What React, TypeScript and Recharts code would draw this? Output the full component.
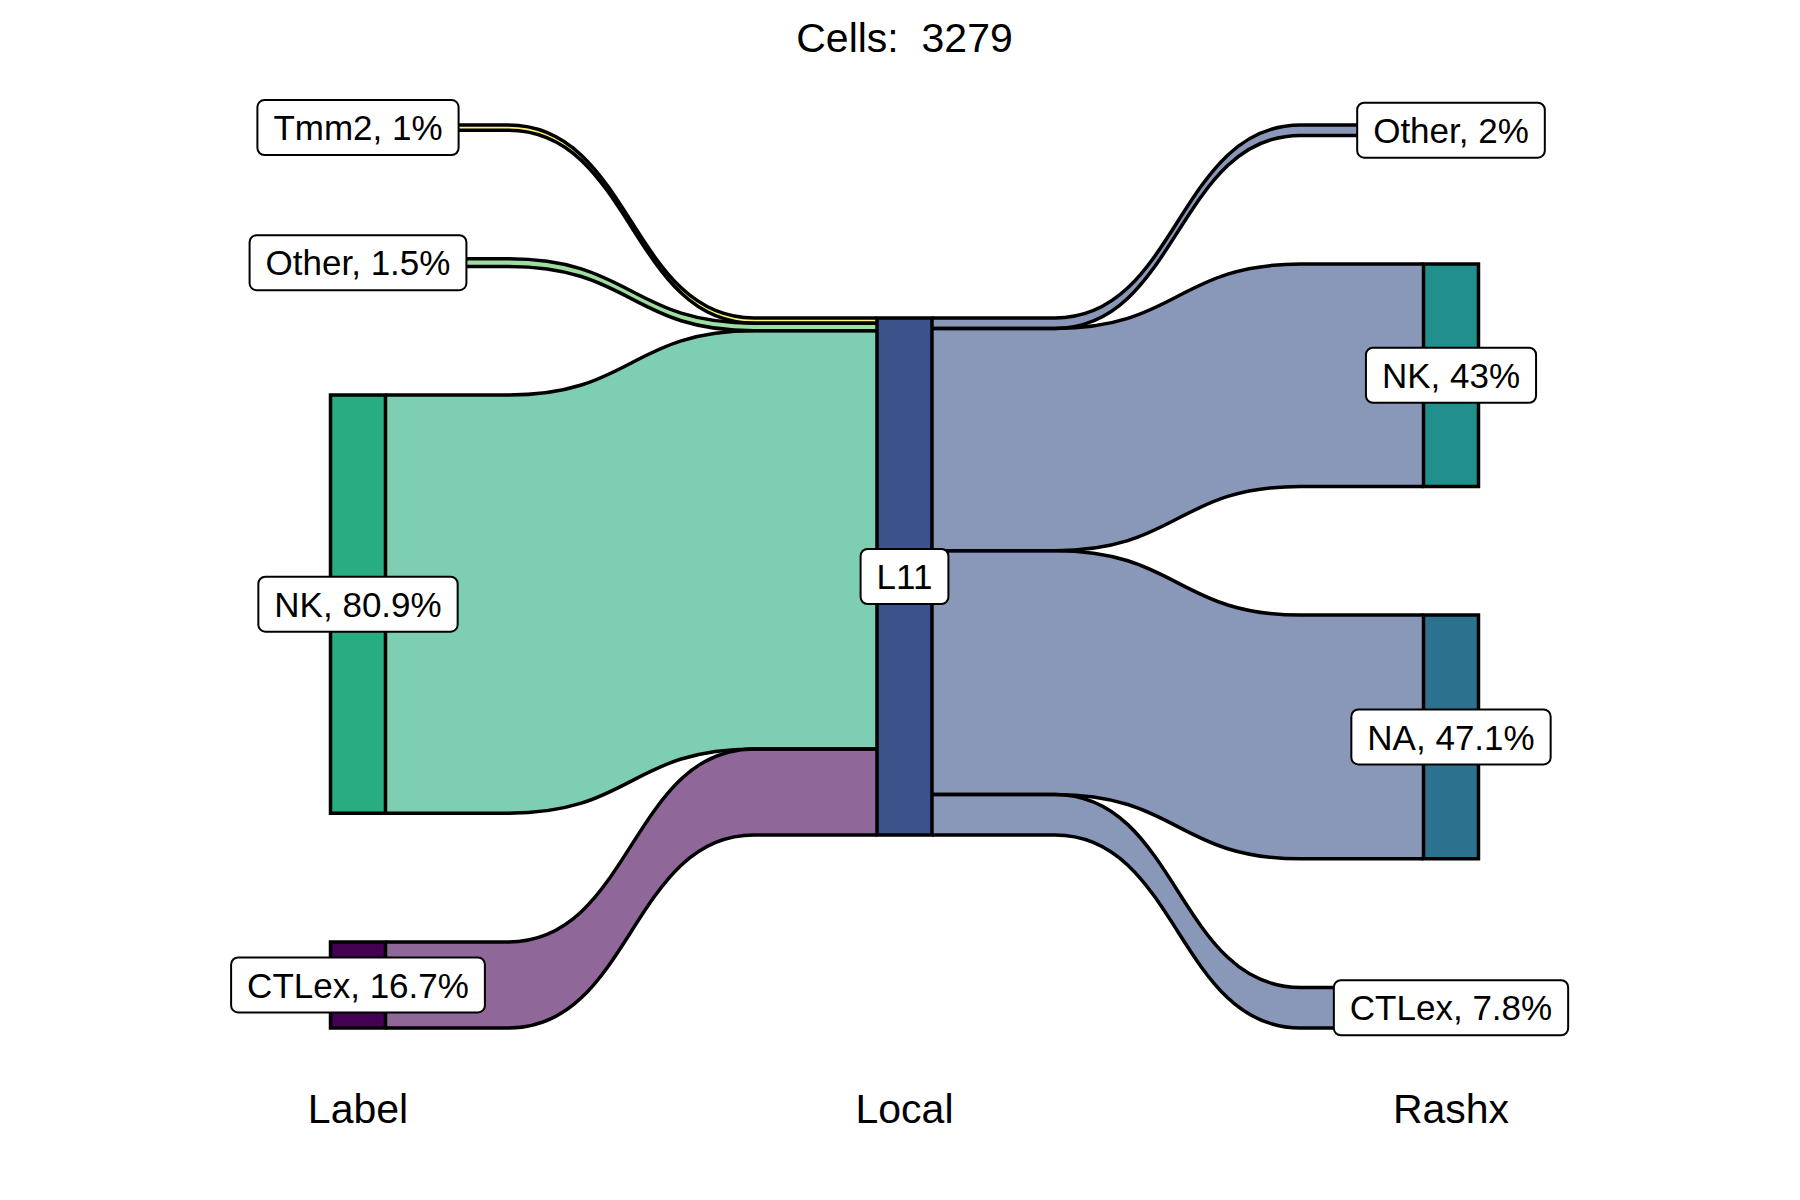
import { ComposedChart, Area, XAxis, YAxis, ReferenceArea, Scatter } from "recharts";

// axes (x categories) and strata per axis
const AXES = ["Label", "Local", "Rashx"];

const LABEL_STRATA = ["Tmm2", "Other", "NK", "CTLex"];
const LABEL_COUNTS = [33, 48, 2652, 546];
const LABEL_COLORS = ["#FDE725", "#5DC863", "#27AD81", "#440154"];

const LOCAL_STRATA = ["L11"];
const LOCAL_COUNTS = [3279];
const LOCAL_COLORS = ["#3B528B"];

const RASHX_STRATA = ["Other", "NK", "NA", "CTLex"];
const RASHX_COUNTS = [66, 1410, 1546, 257];
const RASHX_COLORS = ["#AADC32", "#21908C", "#2C728E", "#472D7B"];

const TOTAL = 3279;
const GAP = 816; // space between strata, in cells
const SPAN = TOTAL + 3 * GAP;
const NODE_HALF = 0.0503; // half stratum width, x units
const KNOT = 0.25;

const FONT = '"Liberation Sans", Arial, Helvetica, sans-serif';
const LABEL_SIZE = 35;
const PAD = 16;

type Node = { name: string; count: number; color: string; y0: number; y1: number; x: number };

function layout(names: string[], counts: number[], colors: string[], x: number, start: number): Node[] {
  let y = start;
  return names.map((name, i) => {
    const n = { name, count: counts[i], color: colors[i], y0: y, y1: y + counts[i], x };
    y += counts[i] + GAP;
    return n;
  });
}

const leftNodes = layout(LABEL_STRATA, LABEL_COUNTS, LABEL_COLORS, 0, 0);
const midNodes = layout(LOCAL_STRATA, LOCAL_COUNTS, LOCAL_COLORS, 1, (SPAN - TOTAL) / 2);
const rightNodes = layout(RASHX_STRATA, RASHX_COUNTS, RASHX_COLORS, 2, 0);

function pct(c: number) {
  const s = ((c / TOTAL) * 100).toFixed(1);
  return s.endsWith(".0") ? s.slice(0, -2) : s;
}

// ribbon knots, like ggalluvial's knot.pos
function ribbon(xa: number, xb: number, a: [number, number], b: [number, number]) {
  const L = xb - xa;
  return [
    { x: xa, v: a },
    { x: xa + L * KNOT, v: a },
    { x: xb - L * KNOT, v: b },
    { x: xb, v: b },
  ];
}

// flows: every Label stratum -> L11, L11 -> every Rashx stratum
const mid = midNodes[0];
const flows: { key: string; color: string; data: { x: number; v: [number, number] }[] }[] = [];
{
  let m = mid.y0;
  leftNodes.forEach((n) => {
    flows.push({
      key: "l-" + n.name,
      color: n.color,
      data: ribbon(n.x + NODE_HALF, mid.x - NODE_HALF, [n.y0, n.y1], [m, m + n.count]),
    });
    m += n.count;
  });
  m = mid.y0;
  rightNodes.forEach((n) => {
    flows.push({
      key: "r-" + n.name,
      color: mid.color,
      data: ribbon(mid.x + NODE_HALF, n.x - NODE_HALF, [m, m + n.count], [n.y0, n.y1]),
    });
    m += n.count;
  });
}

const labels = [
  ...leftNodes.map((n) => ({ x: n.x, y: (n.y0 + n.y1) / 2, text: `${n.name}, ${pct(n.count)}%` })),
  ...midNodes.map((n) => ({ x: n.x, y: (n.y0 + n.y1) / 2, text: n.name })),
  ...rightNodes.map((n) => ({ x: n.x, y: (n.y0 + n.y1) / 2, text: `${n.name}, ${pct(n.count)}%` })),
];

let ctx: CanvasRenderingContext2D | null = null;
function textWidth(s: string) {
  if (!ctx) ctx = document.createElement("canvas").getContext("2d");
  if (!ctx) return s.length * LABEL_SIZE * 0.55;
  ctx.font = `${LABEL_SIZE}px ${FONT}`;
  return ctx.measureText(s).width;
}

const LabelBox = (props: any) => {
  const { cx, cy, payload } = props;
  const w = textWidth(payload.text) + 2 * PAD;
  const h = 55;
  return (
    <g>
      <rect x={cx - w / 2} y={cy - h / 2} width={w} height={h} rx={7} ry={7} fill="#ffffff" stroke="#000000" strokeWidth={2} />
      <text x={cx} y={cy} dy="0.36em" textAnchor="middle" fontSize={LABEL_SIZE} fontFamily={FONT} fill="#000000">
        {payload.text}
      </text>
    </g>
  );
};

export default function App() {
  const allNodes = [...leftNodes, ...midNodes, ...rightNodes];
  return (
    <div style={{ position: "absolute", left: 0, top: 0, width: 1800, height: 1200, background: "#ffffff" }}>
      <div
        style={{
          position: "absolute",
          left: 0,
          top: 18,
          width: 1809,
          textAlign: "center",
          fontFamily: FONT,
          fontSize: 41,
          lineHeight: "41px",
          whiteSpace: "pre",
          color: "#000",
        }}
      >
        {"Cells:  3279"}
      </div>
      <ComposedChart width={1800} height={1200} margin={{ top: 125, right: 75.75, bottom: 32, left: 84.75 }}>
        <XAxis
          type="number"
          dataKey="x"
          domain={[-0.5, 2.5]}
          ticks={[0, 1, 2]}
          interval={0}
          tickFormatter={(v) => AXES[v]}
          axisLine={false}
          tickLine={false}
          tickMargin={60}
          height={140}
          tick={{ fontSize: 41, fill: "#000000", fontFamily: FONT }}
        />
        <YAxis type="number" domain={[0, SPAN]} reversed hide />
        {flows.map((f) => (
          <Area
            key={f.key}
            data={f.data}
            dataKey="v"
            type="bumpX"
            fill={f.color}
            fillOpacity={0.6}
            stroke="#000000"
            strokeWidth={3.5}
            dot={false}
            activeDot={false}
            isAnimationActive={false}
          />
        ))}
        {allNodes.map((n) => (
          <ReferenceArea
            key={n.x + n.name}
            x1={n.x - NODE_HALF}
            x2={n.x + NODE_HALF}
            y1={n.y0}
            y2={n.y1}
            fill={n.color}
            fillOpacity={1}
            stroke="#000000"
            strokeWidth={3.5}
            ifOverflow="visible"
          />
        ))}
        <Scatter data={labels} dataKey="y" shape={LabelBox} isAnimationActive={false} />
      </ComposedChart>
    </div>
  );
}
